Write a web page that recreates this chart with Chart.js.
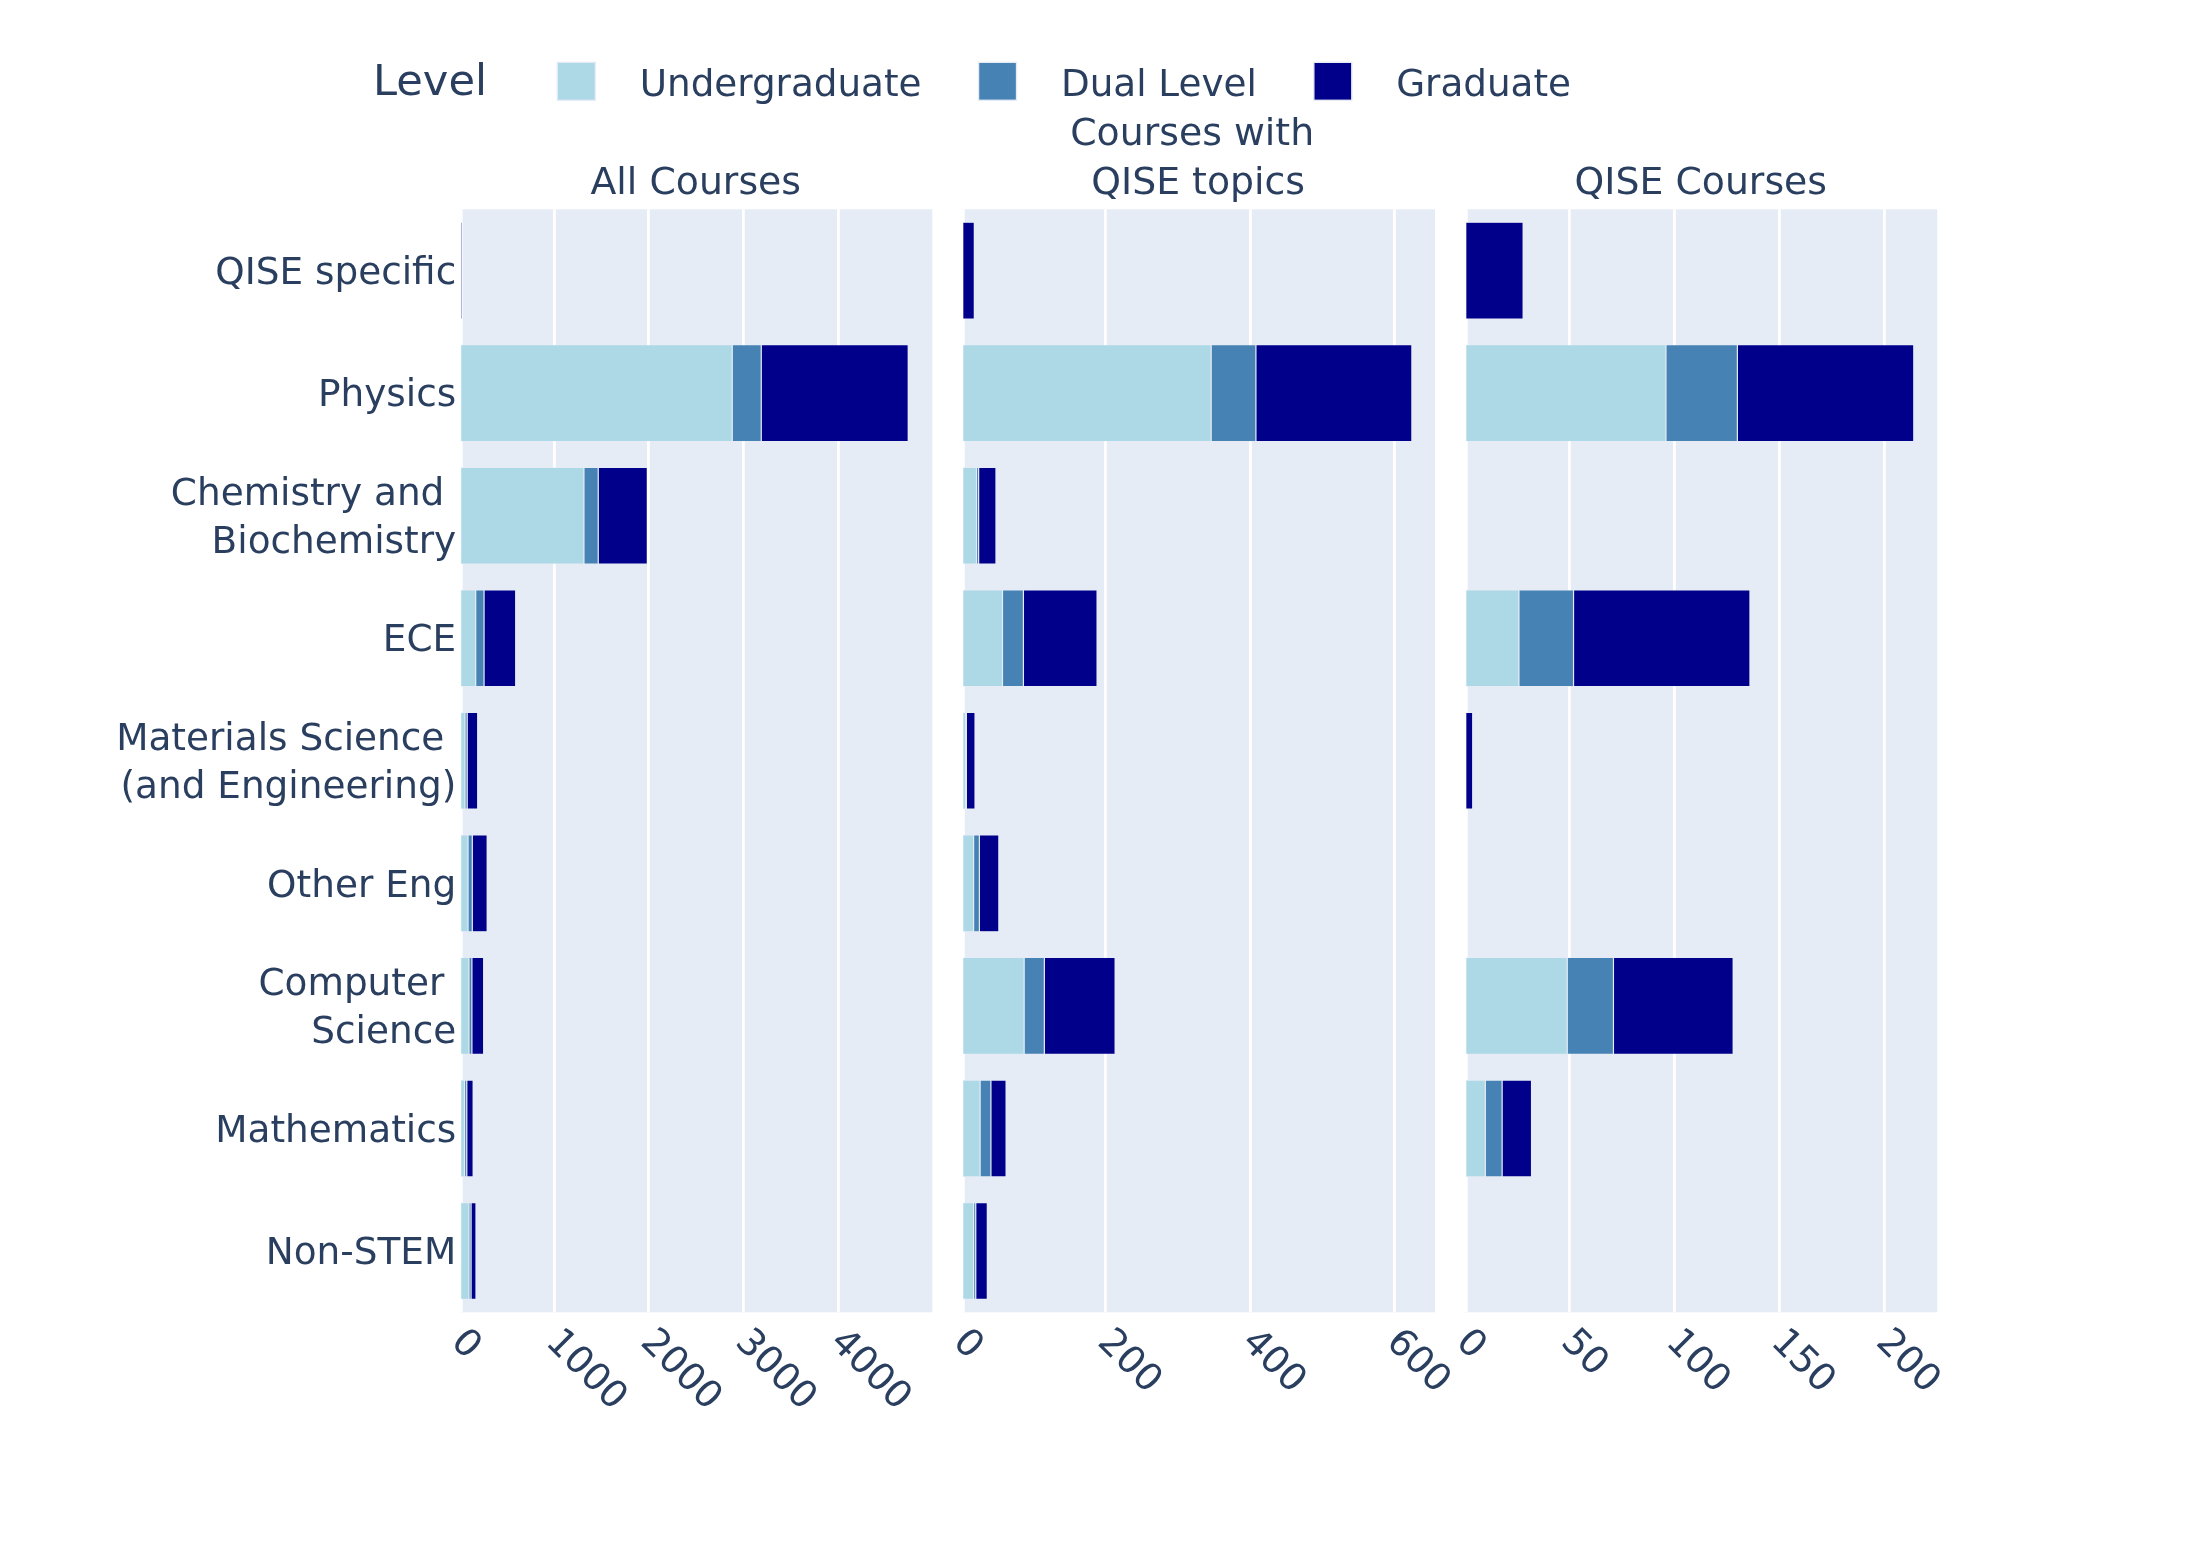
<!DOCTYPE html>
<html>
<head>
<meta charset="utf-8">
<script src="https://cdn.jsdelivr.net/npm/chart.js@4.4.1/dist/chart.umd.min.js"></script>
<style>
html,body{margin:0;padding:0;background:#ffffff;}
#wrap{position:relative;width:2188px;height:1563px;overflow:hidden;background:#ffffff;}
canvas{position:absolute;left:0;top:0;}
</style>
</head>
<body>
<div id="wrap">
<canvas id="c1" width="2188" height="1563"></canvas>
<canvas id="c2" width="2188" height="1563"></canvas>
<canvas id="c3" width="2188" height="1563"></canvas>
</div>
<script>
// ---------- data ----------
const categories = ['QISE specific', 'Physics', ['Chemistry and ', 'Biochemistry'], 'ECE',
  ['Materials Science ', '(and Engineering)'], 'Other Eng', ['Computer ', 'Science'], 'Mathematics', 'Non-STEM'];
const levels = ['Undergraduate', 'Dual Level', 'Graduate'];

// All Courses
const allUndergrad = [null, 2881, 1316, 174, 61, 93, 103, 56, 103];
const allDual      = [null, 306, 151, 88, 23, 45, 31, 24, 22];
const allGrad      = [30, 1551, 518, 334, 111, 157, 124, 67, 52];

// Courses with QISE topics
const topicsUndergrad = [null, 346, 21, 57, 6, 17, 87, 26, 17];
const topicsDual      = [null, 62, 3, 29, 1, 8, 28, 15, 3];
const topicsGrad      = [18, 216, 24, 102, 12, 27, 98, 21, 16];

// QISE Courses
const qiseUndergrad = [null, 96, null, 26, null, null, 49, 10, null];
const qiseDual      = [null, 34, null, 26, null, null, 22, 8, null];
const qiseGrad      = [28, 84, null, 84, 4, null, 57, 14, null];

// tick labels
const ticksAll = [0, 1000, 2000, 3000, 4000];
const ticksTopics = [0, 200, 400, 600];
const ticksQise = [0, 50, 100, 150, 200];

// axis ranges
const maxAll = 4992;
const maxTopics = 656;
const maxQise = 225.2;

// subplot titles
const titleAll = ['All Courses'];
const titleTopics = ['Courses with ', 'QISE topics'];
const titleQise = ['QISE Courses'];
const legendTitle = 'Level';

// ---------- style ----------
const FONT = 'DejaVu Sans';
const TXT = '#2a3f5f';
const BG = '#E5ECF6';
const COLORS = ['#ADD8E6', '#4682B4', '#00008B'];
const PAGE_W = 2188, PAGE_H = 1563;
const TOP = 209.3, BOTTOM = 1312.3;
const FS = 37.8;      // titles, x tick labels
const FS_Y = 37.4;    // category labels
const FS_LEG = 37.3;  // legend items

Chart.defaults.font.family = FONT;
Chart.defaults.color = TXT;

function makeDeco(cfg) {
  return {
    id: 'deco_' + cfg.id,
    beforeDraw(chart) {
      const {ctx, chartArea: a} = chart;
      ctx.save();
      ctx.fillStyle = BG;
      ctx.fillRect(a.left, a.top, a.right - a.left, a.bottom - a.top);
      ctx.restore();
    },
    beforeDatasetsDraw(chart) {
      const {ctx, chartArea: a} = chart;
      const x0 = chart.scales.x.getPixelForValue(0);
      ctx.save();
      ctx.fillStyle = '#ffffff';
      ctx.fillRect(x0 - 1, a.top, 4.4, a.bottom - a.top);
      ctx.restore();
    },
    afterDraw(chart) {
      const {ctx, chartArea: a} = chart;
      const sx = chart.scales.x;
      ctx.save();
      ctx.fillStyle = TXT;
      ctx.font = FS + 'px "' + FONT + '"';
      // rotated tick labels
      cfg.ticks.forEach(v => {
        const px = sx.getPixelForValue(v);
        ctx.save();
        ctx.translate(px - 2.6, 1336.5);
        ctx.rotate(Math.PI / 4);
        ctx.textAlign = 'left';
        ctx.textBaseline = 'middle';
        ctx.fillText(String(v), 0, 0);
        ctx.restore();
      });
      // subplot title
      const cx = (a.left + a.right) / 2;
      ctx.textAlign = 'center';
      ctx.textBaseline = 'alphabetic';
      const n = cfg.title.length;
      cfg.title.forEach((line, i) => {
        ctx.fillText(line, cx, 194 - (n - 1 - i) * 49);
      });
      // legend
      if (cfg.legend) {
        ctx.textAlign = 'left';
        ctx.font = '43.2px "' + FONT + '"';
        ctx.fillText(legendTitle, 373, 94.5);
        ctx.font = FS_LEG + 'px "' + FONT + '"';
        let x = 557.3;
        levels.forEach((lab, i) => {
          ctx.fillStyle = COLORS[i];
          ctx.fillRect(x, 62.3, 38, 38);
          ctx.strokeStyle = BG;
          ctx.lineWidth = 1.4;
          ctx.strokeRect(x, 62.3, 38, 38);
          ctx.fillStyle = TXT;
          const tx = x + 82.4;
          ctx.fillText(lab, tx, 95.5);
          x = tx + ctx.measureText(lab).width + 57;
        });
      }
      ctx.restore();
    }
  };
}

function makeChart(cfg) {
  const datasets = cfg.series.map((d, i) => ({
    label: levels[i],
    data: d,
    backgroundColor: COLORS[i],
    borderColor: BG,
    borderWidth: 0.6,
    borderSkipped: false,
    inflateAmount: 0,
    barPercentage: 0.79,
    categoryPercentage: 1
  }));
  return new Chart(document.getElementById(cfg.id), {
    type: 'bar',
    data: {labels: categories, datasets},
    options: {
      indexAxis: 'y',
      responsive: false,
      maintainAspectRatio: false,
      animation: false,
      devicePixelRatio: 1,
      events: [],
      layout: {padding: {left: cfg.showY ? 0 : cfg.left, right: PAGE_W - cfg.right, top: TOP, bottom: PAGE_H - BOTTOM}},
      plugins: {legend: {display: false}, tooltip: {enabled: false}, title: {display: false}},
      scales: {
        x: {
          type: 'linear',
          stacked: true,
          position: 'bottom',
          min: 0,
          max: cfg.max,
          grid: {color: '#ffffff', lineWidth: 2.8, drawTicks: false},
          border: {display: false},
          ticks: {display: false, includeBounds: false},
          afterBuildTicks: s => { s.ticks = cfg.ticks.map(v => ({value: v})); },
          afterFit: s => { s.height = 0; }
        },
        y: {
          type: 'category',
          stacked: true,
          display: cfg.showY,
          grid: {display: false, drawTicks: false},
          border: {display: false},
          ticks: {
            autoSkip: false,
            padding: 3,
            labelOffset: 3.5,
            color: TXT,
            font: {family: FONT, size: FS_Y, lineHeight: 1.28}
          },
          afterFit: s => { if (cfg.showY) s.width = cfg.left; }
        }
      }
    },
    plugins: [makeDeco(cfg)]
  });
}

makeChart({id: 'c1', series: [allUndergrad, allDual, allGrad], max: maxAll, ticks: ticksAll,
  title: titleAll, left: 459.23, right: 932.3, showY: true, legend: true});
makeChart({id: 'c2', series: [topicsUndergrad, topicsDual, topicsGrad], max: maxTopics, ticks: ticksTopics,
  title: titleTopics, left: 961.33, right: 1435, showY: false, legend: false});
makeChart({id: 'c3', series: [qiseUndergrad, qiseDual, qiseGrad], max: maxQise, ticks: ticksQise,
  title: titleQise, left: 1464.33, right: 1937.33, showY: false, legend: false});
</script>
</body>
</html>
